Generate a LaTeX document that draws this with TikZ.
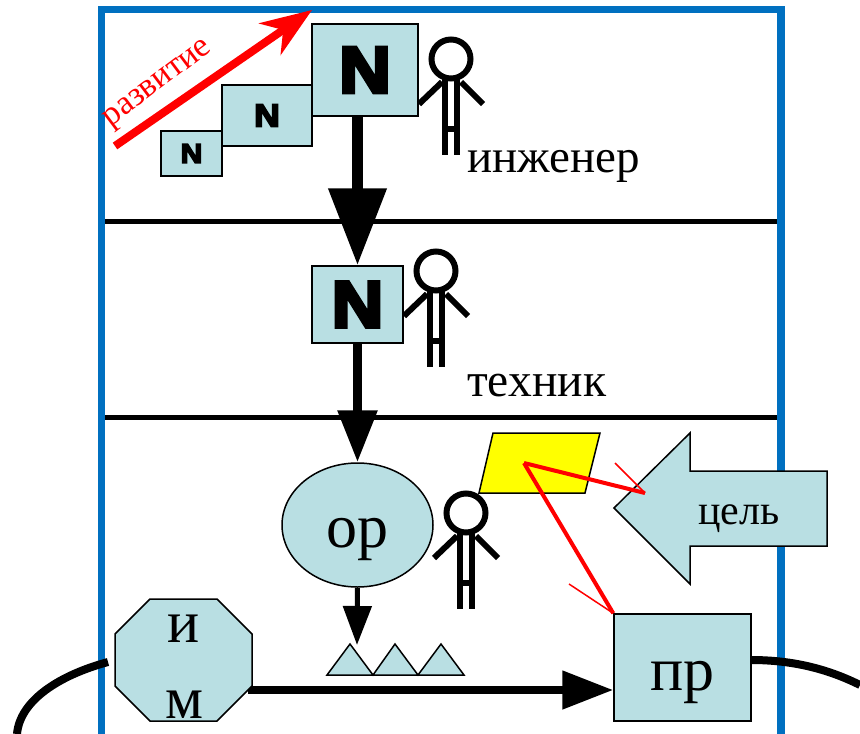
\documentclass[tikz,border=0pt]{standalone}
\usepackage{fontspec}
\setmainfont{Liberation Serif}
\newfontfamily\heavyfont[FakeBold=6,FakeStretch=1.1]{Liberation Sans Bold}
\usetikzlibrary{arrows.meta}
\usetikzlibrary{shapes.geometric}
\definecolor{framecol}{RGB}{0,112,192}
\definecolor{boxcol}{RGB}{185,223,227}
\definecolor{aimcol}{RGB}{255,255,0}
\tikzset{
	boxed/.style={draw=black,fill=boxcol,line width=1.5pt,inner sep=0pt},
	bigtext/.style={font=\fontsize{62}{76}\selectfont,text height=45pt,text depth=0pt},
	stick/.pic={
		\draw[line width=6pt] (0,0) circle(19.5);
		\draw[line width=6pt] (-9,23) -- (-32,45);
		\draw[line width=6pt] (10,23) -- (32,45);
		\draw[line width=6pt] (-6.5,21) -- (-6.5,96);
		\draw[line width=6pt] (6,21) -- (6,96);
		\draw[line width=6pt] (-6.5,70) -- (6,70);
	}
}
\begin{document}
\begin{tikzpicture}[x=1pt,y=-1pt,>=latex]
	\useasboundingbox (0,0) rectangle (860,734);
	\draw[framecol,line width=7.5pt] (101.5,734) -- (101.5,9.5) -- (781,9.5) -- (781,734);
	\draw[line width=5pt] (105,221) -- (777,221);
	\draw[line width=5pt] (105,417) -- (777,417);

	\node[boxed,minimum width=61pt,minimum height=45pt,font=\heavyfont\fontsize{27}{27}\selectfont] (smalln) at (191.5,153.5) {N};
	\node[boxed,minimum width=90pt,minimum height=61pt,font=\heavyfont\fontsize{32}{32}\selectfont] (midn) at (267,115.5) {N};
	\node[boxed,minimum width=106pt,minimum height=92pt,font=\heavyfont\fontsize{65}{65}\selectfont] (bign) at (365,70) {N};
	\node[boxed,minimum width=91pt,minimum height=77pt,font=\heavyfont\fontsize{65}{65}\selectfont] (techn) at (357.5,304.5) {N};
	\node[boxed,ellipse,minimum width=151pt,minimum height=124pt,bigtext] (or) at (357.5,525) {ор};
	\node[boxed,minimum width=137pt,minimum height=107pt,bigtext] (pr) at (682.5,667.5) {пр};

	\draw[-{Triangle[length=77pt,width=56pt]},line width=11pt] (bign.south -| techn) -- (techn.north);
	\draw[-{Triangle[length=52pt,width=38pt]},line width=9pt] (techn.south) -- (or.north);
	\coordinate (tri) at (357,645);
	\draw[-{Triangle[length=39pt,width=28pt]},line width=5pt] (or.south) -- (tri);

	\draw[boxed] (327,675) -- (350,644) -- (373,675) -- (395,644) -- (418,675) -- (441,644) -- (464,675) -- cycle;
	\coordinate (imout) at (248,690);
	\draw[-{Triangle[length=51pt,width=37pt]},line width=8pt] (imout) -- (pr.west |- imout);
	\draw[boxed] (150,599) -- (217,599) -- (252,634) -- (252,686) -- (217,721) -- (150,721) -- (115,686) -- (115,634) -- cycle;
	\node[align=center,inner sep=0pt,font=\fontsize{60}{76}\selectfont] (im) at (184,667) {и\\м};
	\coordinate (inl) at (108,662);
	\coordinate (inr) at (17,734);
	\draw[line width=8pt] (inl) .. controls (60,675) and (20,700) .. (inr);
	\coordinate (outl) at (751,660);
	\coordinate (outr) at (860,685);
	\draw[line width=8pt] (outl) .. controls (795,660) and (830,670) .. (outr);

	\coordinate (devs) at (115,146);
	\coordinate (devt) at (312,10);
	\draw[-{Stealth[length=51pt,width=38pt,inset=16pt]},red,line width=8pt] (devs) -- (devt);
	\node[red,rotate=37,inner sep=0pt,font=\fontsize{34}{34}\selectfont] (dev) at (159,85) {развитие};

	\pic at (451,59) {stick};
	\pic at (436,271) {stick};
	\pic at (466,513) {stick};
	\node[anchor=base west,inner sep=0pt,font=\fontsize{47}{47}\selectfont] (eng) at (467,172) {инженер};
	\node[anchor=base west,inner sep=0pt,font=\fontsize{47.5}{47.5}\selectfont] (tech) at (467,396) {техник};

	\draw[boxed,fill=aimcol] (493,433) -- (600,433) -- (585,493) -- (479,493) -- cycle;
	\draw[boxed] (614,508) -- (690,433) -- (690,471) -- (827,471) -- (827,546) -- (690,546) -- (690,584) -- cycle;
	\node[anchor=base,inner sep=0pt,font=\fontsize{42}{42}\selectfont] (goal) at (739,524) {цель};

	\coordinate (aim) at (524,463);
	\coordinate (aimg) at (645,493);
	\coordinate (barbg) at (615,463);
	\coordinate (barbp) at (569,584);
	\draw[red,line width=4pt] (aim) -- (aimg);
	\draw[red,line width=1.5pt] (barbg) -- (aimg);
	\draw[red,line width=4pt] (aim) -- (pr.north west);
	\draw[red,line width=1.5pt] (barbp) -- (pr.north west);
\end{tikzpicture}
\end{document}
